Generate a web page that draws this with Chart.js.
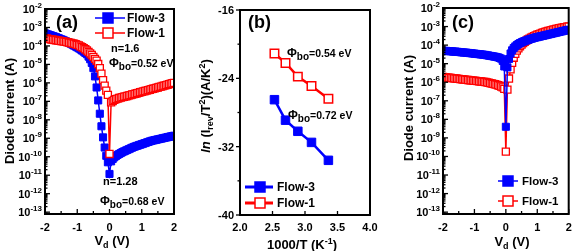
<!DOCTYPE html>
<html><head><meta charset="utf-8">
<script src="https://cdn.jsdelivr.net/npm/chart.js@4.4.1/dist/chart.umd.min.js"></script>
<style>
html,body{margin:0;padding:0;background:#fff;}
#wrap{position:relative;width:575px;height:251px;overflow:hidden;background:#fff;}
canvas{position:absolute;top:0;}
</style></head><body>
<div id="wrap">
<canvas id="ca" width="190" height="251" style="left:0px"></canvas>
<canvas id="cb" width="190" height="251" style="left:190px"></canvas>
<canvas id="cc" width="195" height="251" style="left:380px"></canvas>
</div>
<script>
// ---------------- DATA ----------------
// bias voltage Vd (V)
const voltage = [-2.00,-1.95,-1.90,-1.85,-1.80,-1.75,-1.70,-1.65,-1.60,-1.55,
 -1.50,-1.45,-1.40,-1.35,-1.30,-1.25,-1.20,-1.15,-1.10,-1.05,
 -1.00,-0.95,-0.90,-0.85,-0.80,-0.75,-0.70,-0.65,-0.60,-0.55,
 -0.50,-0.45,-0.40,-0.35,-0.30,-0.25,-0.20,-0.15,-0.10,-0.05,
 0.00,
 0.05,0.10,0.15,0.20,0.25,0.30,0.35,0.40,0.45,0.50,
 0.55,0.60,0.65,0.70,0.75,0.80,0.85,0.90,0.95,1.00,
 1.05,1.10,1.15,1.20,1.25,1.30,1.35,1.40,1.45,1.50,
 1.55,1.60,1.65,1.70,1.75,1.80,1.85,1.90,1.95,2.00];

// panel (a): log10 of diode current (A)
const flow3_logI_a = [-3.32,-3.35,-3.38,-3.41,-3.44,-3.47,-3.50,-3.53,-3.57,-3.60,
 -3.64,-3.67,-3.71,-3.75,-3.79,-3.83,-3.88,-3.93,-3.98,-4.03,
 -4.08,-4.13,-4.19,-4.25,-4.31,-4.38,-4.45,-4.58,-4.72,-4.92,
 -5.20,-5.65,-6.25,-6.95,-7.67,-8.35,-8.95,-9.50,-9.95,-10.30,
 -10.93,
 -10.25,-10.12,-10.03,-9.96,-9.90,-9.85,-9.80,-9.75,-9.71,-9.67,
 -9.63,-9.59,-9.55,-9.51,-9.47,-9.44,-9.41,-9.38,-9.35,-9.32,
 -9.29,-9.26,-9.23,-9.20,-9.17,-9.14,-9.12,-9.10,-9.08,-9.06,
 -9.04,-9.02,-9.00,-8.98,-8.96,-8.94,-8.92,-8.90,-8.88,-8.86];
const flow1_logI_a = [-3.59,-3.60,-3.62,-3.63,-3.65,-3.66,-3.68,-3.69,-3.71,-3.72,
 -3.74,-3.75,-3.77,-3.78,-3.80,-3.82,-3.84,-3.86,-3.88,-3.91,
 -3.94,-3.97,-4.03,-4.07,-4.12,-4.18,-4.25,-4.32,-4.40,-4.49,
 -4.59,-4.70,-4.80,-4.98,-5.20,-5.50,-5.85,-6.15,-6.42,-6.65,
 -9.85,
 -7.05,-6.98,-6.92,-6.88,-6.85,-6.82,-6.80,-6.77,-6.75,-6.73,
 -6.71,-6.68,-6.66,-6.63,-6.61,-6.59,-6.56,-6.54,-6.51,-6.49,
 -6.46,-6.44,-6.42,-6.39,-6.37,-6.34,-6.32,-6.30,-6.27,-6.25,
 -6.22,-6.20,-6.17,-6.15,-6.12,-6.10,-6.07,-6.05,-6.02,-6.00];

// panel (c): log10 of diode current (A)
const flow3_logI_c = [-4.30,-4.31,-4.31,-4.32,-4.33,-4.33,-4.34,-4.35,-4.35,-4.36,
 -4.37,-4.38,-4.39,-4.40,-4.40,-4.41,-4.42,-4.43,-4.44,-4.45,
 -4.46,-4.47,-4.48,-4.49,-4.50,-4.51,-4.52,-4.53,-4.55,-4.56,
 -4.58,-4.59,-4.61,-4.62,-4.64,-4.66,-4.69,-4.73,-4.85,-5.15,
 -8.40,
 -5.20,-4.75,-4.45,-4.28,-4.16,-4.07,-4.00,-3.94,-3.89,-3.85,
 -3.81,-3.78,-3.75,-3.72,-3.69,-3.66,-3.64,-3.61,-3.59,-3.57,
 -3.55,-3.53,-3.51,-3.49,-3.47,-3.45,-3.43,-3.41,-3.39,-3.37,
 -3.35,-3.33,-3.31,-3.29,-3.27,-3.25,-3.23,-3.21,-3.19,-3.17];
const flow1_logI_c = [-5.72,-5.73,-5.74,-5.75,-5.76,-5.77,-5.78,-5.79,-5.80,-5.81,
 -5.82,-5.83,-5.84,-5.85,-5.86,-5.87,-5.88,-5.89,-5.90,-5.91,
 -5.92,-5.93,-5.94,-5.95,-5.96,-5.97,-5.98,-5.99,-6.01,-6.03,
 -6.05,-6.07,-6.09,-6.11,-6.13,-6.16,-6.19,-6.23,-6.28,-6.36,
 -9.74,
 -6.40,-5.80,-5.30,-4.95,-4.68,-4.47,-4.30,-4.17,-4.06,-3.97,
 -3.89,-3.82,-3.76,-3.70,-3.65,-3.60,-3.56,-3.52,-3.48,-3.44,
 -3.41,-3.38,-3.35,-3.32,-3.29,-3.26,-3.24,-3.22,-3.19,-3.17,
 -3.15,-3.13,-3.11,-3.09,-3.07,-3.06,-3.04,-3.03,-3.01,-3.00];

// panel (b): Richardson plot
const invT = [2.53, 2.70, 2.89, 3.10, 3.36];          // 1000/T (1/K)
const flow3_lnIT2 = [-26.5, -28.9, -30.2, -31.5, -33.6];
const flow1_lnIT2 = [-21.1, -22.2, -23.8, -24.9, -26.4];

// tick labels
const logTickExps = [-2,-3,-4,-5,-6,-7,-8,-9,-10,-11,-12,-13];
const vTicks = [-2,-1,0,1,2];
const invTTicks = ['2.0','2.5','3.0','3.5','4.0'];
const lnTicks = [-16,-24,-32,-40];

const seriesNames = ['Flow-3','Flow-1'];
const annA = {n3:'n=1.28', n1:'n=1.6', phi3:'=0.68 eV', phi1:'=0.52 eV'};
const annB = {phi3:'=0.72 eV', phi1:'=0.54 eV'};

// ---------------- helpers ----------------
const BLUE = '#0000ff', RED = '#ff0000';
const FF = '"Liberation Sans", Arial, Helvetica, sans-serif';
function setFont(ctx, sz, it){ ctx.font = (it ? 'italic ' : '') + 'bold ' + sz + 'px ' + FF; }
function rich(ctx, parts, x, y, align){
  let w = 0; const ws = [];
  for (const p of parts){ setFont(ctx, p[1], p[3]); const m = ctx.measureText(p[0]).width; ws.push(m); w += m; }
  let sx = align === 'center' ? x - w/2 : (align === 'right' ? x - w : x);
  ctx.textAlign = 'left'; ctx.textBaseline = 'alphabetic'; ctx.fillStyle = '#000';
  parts.forEach((p,i) => { setFont(ctx, p[1], p[3]); ctx.fillText(p[0], sx, y + (p[2]||0)); sx += ws[i]; });
  return w;
}
function seg(ctx,x1,y1,x2,y2){ ctx.beginPath(); ctx.moveTo(x1,y1); ctx.lineTo(x2,y2); ctx.stroke(); }
function marker(ctx,x,y,s,color,filled){
  ctx.fillStyle = filled ? color : '#fff'; ctx.fillRect(x-s/2,y-s/2,s,s);
  ctx.strokeStyle = color; ctx.lineWidth = 1.5; ctx.strokeRect(x-s/2,y-s/2,s,s);
}
function legendItem(ctx,x1,x2,y,mx,s,color,filled,lw,label,tx,fs){
  ctx.strokeStyle = color; ctx.lineWidth = lw; seg(ctx,x1,y,x2,y);
  marker(ctx,mx,y,s,color,filled);
  rich(ctx,[[label,fs,0]],tx,y+fs*0.36,'left');
}
function rotTitle(ctx, parts, cx, cy, sz){
  ctx.save(); ctx.translate(cx, cy); ctx.rotate(-Math.PI/2);
  rich(ctx, parts, 0, sz*0.36, 'center'); ctx.restore();
}
function pts(xs, logs){ return xs.map((v,i) => ({x: v, y: Math.pow(10, logs[i])})); }

function logPanelDeco(chart){
  const ctx = chart.ctx, a = chart.chartArea, xs = chart.scales.x, ys = chart.scales.y;
  ctx.save();
  ctx.strokeStyle = '#000'; ctx.lineWidth = 2;
  ctx.strokeRect(a.left, a.top, a.right-a.left, a.bottom-a.top);
  ctx.lineWidth = 1.3;
  for (const e of logTickExps){
    const py = ys.getPixelForValue(Math.pow(10,e));
    ctx.strokeStyle = '#000'; seg(ctx, a.left, py, a.left+5, py);
    rich(ctx, [['10',11,0],[String(e),8,-5]], a.left-3, py+4, 'right');
  }
  for (let e = -14; e <= -3; e++){
    for (let m = 2; m <= 9; m++){
      const v = m*Math.pow(10,e);
      if (v < ys.min || v > ys.max) continue;
      const pm = ys.getPixelForValue(v);
      ctx.strokeStyle = '#000'; seg(ctx, a.left, pm, a.left+2.5, pm);
    }
  }
  for (const v of vTicks){
    const px = xs.getPixelForValue(v);
    ctx.strokeStyle = '#000'; seg(ctx, px, a.bottom, px, a.bottom-5);
    rich(ctx, [[String(v),11,0]], px, a.bottom+17, 'center');
  }
  for (let v = -1.5; v <= 1.5; v += 1){
    const px = xs.getPixelForValue(v);
    seg(ctx, px, a.bottom, px, a.bottom-3);
  }
  ctx.restore();
}

const baseOpts = (pad, yscale, xscale) => ({
  responsive:false, animation:false, devicePixelRatio:1, events:[],
  layout:{padding:pad},
  plugins:{legend:{display:false}, tooltip:{enabled:false}},
  scales:{ x: xscale, y: yscale }
});

// ---------------- panel (a) ----------------
new Chart(document.getElementById('ca'), {
  type:'line',
  data:{datasets:[
    {label:seriesNames[0], data:pts(voltage, flow3_logI_a), borderColor:BLUE, backgroundColor:BLUE, borderWidth:1.5,
     pointStyle:'rect', pointRadius:5, pointBackgroundColor:BLUE, pointBorderColor:BLUE, pointBorderWidth:1, order:1},
    {label:seriesNames[1], data:pts(voltage, flow1_logI_a), borderColor:RED, backgroundColor:'#fff', borderWidth:1.5,
     pointStyle:'rect', pointRadius:5, pointBackgroundColor:'#fff', pointBorderColor:RED, pointBorderWidth:1.3, order:0}
  ]},
  options: baseOpts({left:45,right:16,top:9,bottom:37},
    {type:'logarithmic', min:Math.pow(10,-13.1), max:1e-2, display:false},
    {type:'linear', min:-2, max:2, display:false}),
  plugins:[{id:'decoA', afterDraw(chart){
    const ctx = chart.ctx; logPanelDeco(chart);
    ctx.save();
    rich(ctx, [['(a)',18,0]], 56, 28, 'left');
    legendItem(ctx, 95, 125, 18, 108, 10, BLUE, true, 1.5, seriesNames[0], 127, 12);
    legendItem(ctx, 95, 125, 33, 108, 10, RED, false, 1.5, seriesNames[1], 127, 12);
    rich(ctx, [[annA.n1,11,0]], 111, 52, 'left');
    rich(ctx, [['\u03A6',12,0],['bo',10,3],[annA.phi1,10.5,0]], 109, 67, 'left');
    rich(ctx, [[annA.n3,11,0]], 103, 185, 'left');
    rich(ctx, [['\u03A6',12,0],['bo',10,3],[annA.phi3,10.5,0]], 100, 205, 'left');
    rich(ctx, [['V',13,0],['d',9,3],[' (V)',13,0]], 112, 245, 'center');
    rotTitle(ctx, [['Diode current (A)',13,0]], 9, 111, 13);
    ctx.restore();
  }}]
});

// ---------------- panel (b) ----------------
new Chart(document.getElementById('cb'), {
  type:'line',
  data:{datasets:[
    {label:seriesNames[0], data:invT.map((v,i)=>({x:v,y:flow3_lnIT2[i]})), borderColor:BLUE, borderWidth:2.5,
     pointStyle:'rect', pointRadius:6, pointBackgroundColor:BLUE, pointBorderColor:BLUE, pointBorderWidth:1},
    {label:seriesNames[1], data:invT.map((v,i)=>({x:v,y:flow1_lnIT2[i]})), borderColor:RED, borderWidth:2.5,
     pointStyle:'rect', pointRadius:6, pointBackgroundColor:'#fff', pointBorderColor:RED, pointBorderWidth:1.5}
  ]},
  options: baseOpts({left:50,right:10,top:10,bottom:36},
    {type:'linear', min:-40, max:-16, display:false},
    {type:'linear', min:2, max:4, display:false}),
  plugins:[{id:'decoB', afterDraw(chart){
    const ctx = chart.ctx, a = chart.chartArea, xs = chart.scales.x, ys = chart.scales.y;
    ctx.save();
    ctx.strokeStyle = '#000'; ctx.lineWidth = 2;
    ctx.strokeRect(a.left, a.top, a.right-a.left, a.bottom-a.top);
    ctx.lineWidth = 1.3;
    for (const v of lnTicks){
      const py = ys.getPixelForValue(v);
      seg(ctx, a.left-4, py, a.left, py);
      rich(ctx, [[String(v),11,0]], a.left-6, py+4, 'right');
    }
    for (const v of [-20,-28,-36]){ const py = ys.getPixelForValue(v); seg(ctx, a.left-2.5, py, a.left, py); }
    for (const t of invTTicks){
      const px = xs.getPixelForValue(parseFloat(t));
      seg(ctx, px, a.bottom, px, a.bottom-4);
      rich(ctx, [[t,11,0]], px, a.bottom+16, 'center');
    }
    rich(ctx, [['(b)',18,0]], 58, 28, 'left');
    rich(ctx, [['\u03A6',12,0],['bo',10,3],[annB.phi1,10.5,0]], 97, 57, 'left');
    rich(ctx, [['\u03A6',12,0],['bo',10,3],[annB.phi3,10.5,0]], 98, 119, 'left');
    legendItem(ctx, 55, 83, 187, 70, 10, BLUE, true, 3, seriesNames[0], 87, 12);
    legendItem(ctx, 55, 83, 203, 70, 10, RED, false, 3, seriesNames[1], 87, 12);
    rich(ctx, [['1000/T (K',13,0],['-1',9,-5],[')',13,0]], 112, 249, 'center');
    rotTitle(ctx, [['ln',13,0,true],[' (I',13,0],['rev',9,3],['/T',13,0],['2',9,-5],[')(A/K',13,0],['2',9,-5],[')',13,0]], 15, 106, 13);
    ctx.restore();
  }}]
});

// ---------------- panel (c) ----------------
new Chart(document.getElementById('cc'), {
  type:'line',
  data:{datasets:[
    {label:seriesNames[0], data:pts(voltage, flow3_logI_c), borderColor:BLUE, backgroundColor:BLUE, borderWidth:1.5,
     pointStyle:'rect', pointRadius:5, pointBackgroundColor:BLUE, pointBorderColor:BLUE, pointBorderWidth:1, order:0},
    {label:seriesNames[1], data:pts(voltage, flow1_logI_c), borderColor:RED, backgroundColor:'#fff', borderWidth:1.5,
     pointStyle:'rect', pointRadius:5, pointBackgroundColor:'#fff', pointBorderColor:RED, pointBorderWidth:1.3, order:1}
  ]},
  options: baseOpts({left:63,right:4,top:8,bottom:37},
    {type:'logarithmic', min:Math.pow(10,-13.1), max:1e-2, display:false},
    {type:'linear', min:-2, max:2, display:false}),
  plugins:[{id:'decoC', afterDraw(chart){
    const ctx = chart.ctx; logPanelDeco(chart);
    ctx.save();
    rich(ctx, [['(c)',18,0]], 72, 28, 'left');
    legendItem(ctx, 118, 138, 181, 128, 10, BLUE, true, 1.5, seriesNames[0], 142, 11.5);
    legendItem(ctx, 118, 138, 201, 128, 10, RED, false, 1.5, seriesNames[1], 142, 11.5);
    rich(ctx, [['V',13,0],['d',9,3],[' (V)',13,0]], 132, 246, 'center');
    rotTitle(ctx, [['Diode current (A)',13,0]], 28, 108, 13);
    ctx.restore();
  }}]
});
</script>
</body></html>
